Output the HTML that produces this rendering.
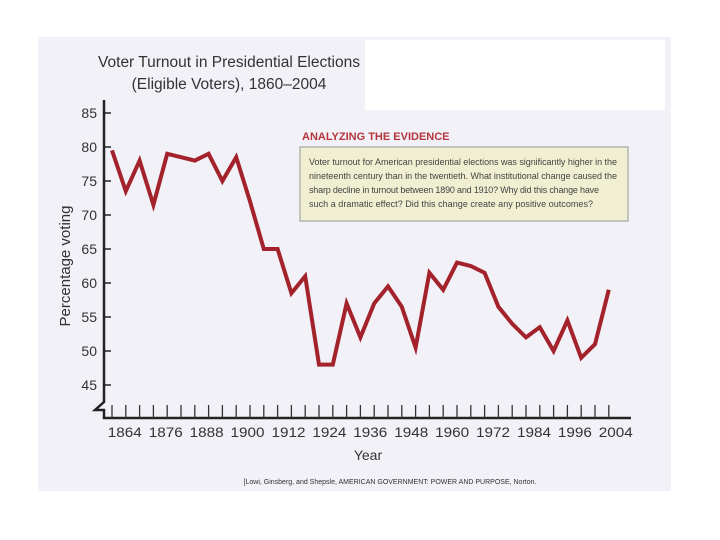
<!DOCTYPE html>
<html><head><meta charset="utf-8"><style>
body{margin:0;width:720px;height:540px;background:#fff;overflow:hidden;font-family:"Liberation Sans",sans-serif}
svg{display:block}
</style></head><body>
<svg width="720" height="540">
<rect x="38" y="37" width="633" height="454" fill="#f1f1f7"/>
<rect x="365" y="40" width="300" height="70" fill="#ffffff"/>
<text x="229" y="67" text-anchor="middle" font-size="15.5" fill="#333">Voter Turnout in Presidential Elections</text>
<text x="229" y="89" text-anchor="middle" font-size="15.5" fill="#333">(Eligible Voters), 1860–2004</text>
<text x="302" y="140" font-size="11" font-weight="bold" fill="#b5363c">ANALYZING THE EVIDENCE</text>
<rect x="300" y="147" width="328" height="74" fill="#f1efd2" stroke="#999"/>
<g font-size="9" fill="#444">
<text x="309" y="165" textLength="308">Voter turnout for American presidential elections was significantly higher in the</text>
<text x="309" y="179" textLength="308">nineteenth century than in the twentieth. What institutional change caused the</text>
<text x="309" y="193" textLength="290">sharp decline in turnout between 1890 and 1910? Why did this change have</text>
<text x="309" y="207" textLength="284">such a dramatic effect? Did this change create any positive outcomes?</text>
</g>
<text transform="translate(70,266) rotate(-90)" text-anchor="middle" font-size="15" fill="#333">Percentage voting</text>
<text x="368" y="460" text-anchor="middle" font-size="14" fill="#333">Year</text>
<text x="390" y="484" text-anchor="middle" font-size="7" fill="#333">[Lowi, Ginsberg, and Shepsle, AMERICAN GOVERNMENT: POWER AND PURPOSE, Norton.</text>
<g id="axes"></g>
<g id="marks"></g>
</svg>
<script>
const years=[1860,1864,1868,1872,1876,1880,1884,1888,1892,1896,1900,1904,1908,1912,1916,1920,1924,1928,1932,1936,1940,1944,1948,1952,1956,1960,1964,1968,1972,1976,1980,1984,1988,1992,1996,2000,2004];
const turnout=[79.5,73.5,78,71.5,79,78.5,78,79,75,78.5,72,65,65,58.5,61,48,48,57,52,57,59.5,56.5,50.5,61.5,59,63,62.5,61.5,56.5,54,52,53.5,50,54.5,49,51,59];
const yTicks=[45,50,55,60,65,70,75,80,85];
const xLabels=[1864,1876,1888,1900,1912,1924,1936,1948,1960,1972,1984,1996,2004];
const NS="http://www.w3.org/2000/svg";
function xs(y){return 112+(y-1860)*3.45;}
function ys(v){return 113+(85-v)*6.8;}
const ax=document.getElementById('axes'),mk=document.getElementById('marks');
function mkEl(t,a,p){const e=document.createElementNS(NS,t);for(const k in a)e.setAttribute(k,a[k]);p.appendChild(e);return e;}
const yl=mkEl('path',{d:'M104,100 L104,402 L95,410 L104,410 L104,418 L631,418',fill:'none',stroke:'#222','stroke-width':2.5},ax);


yTicks.forEach(v=>{
 const t=mkEl('line',{x1:104,x2:111,y1:ys(v),y2:ys(v),stroke:'#222','stroke-width':1.5},ax);
 
 
 const l=mkEl('text',{x:97,y:ys(v)+5,'text-anchor':'end','font-size':14,fill:'#333'},ax);
 l.textContent=v;
 
 
});
years.forEach(y=>{
 const t=mkEl('line',{x1:xs(y),x2:xs(y),y1:418,y2:405,stroke:'#333','stroke-width':1.3},ax);
 
 
});
const lx0=xs(xLabels[0])-1, lx1=xs(xLabels[xLabels.length-1])+7;
xLabels.forEach((y,i)=>{
 const l=mkEl('text',{x:lx0+i*(lx1-lx0)/(xLabels.length-1),y:437,'text-anchor':'middle','font-size':14,fill:'#333',textLength:34,lengthAdjust:'spacingAndGlyphs'},ax);
 l.textContent=y;
 
 
});
const line=mkEl('polyline',{points:years.map((y,i)=>xs(y)+','+ys(turnout[i])).join(' '),fill:'none',stroke:'#a3222b','stroke-width':4,'stroke-linejoin':'miter'},mk);


</script>
</body></html>
